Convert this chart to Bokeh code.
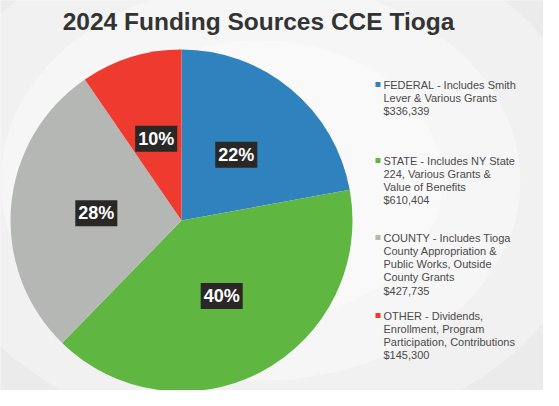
import numpy as np
from bokeh.plotting import figure
from bokeh.models import ColumnDataSource, Range1d, Label
from bokeh.core.properties import value
from bokeh.embed import file_html
from bokeh.resources import INLINE

# ---- data ----
categories = ["FEDERAL", "STATE", "COUNTY", "OTHER"]
amounts = [336339, 610404, 427735, 145300]
pct_labels = ["22%", "40%", "28%", "10%"]
colors = ["#2f82bd", "#5fb742", "#b4b7b3", "#ef3a2f"]
legend_lines = [
    ["FEDERAL - Includes Smith", "Lever & Various Grants", "$336,339"],
    ["STATE - Includes NY State", "224, Various Grants &", "Value of Benefits", "$610,404"],
    ["COUNTY - Includes Tioga", "County Appropriation &", "Public Works, Outside", "County Grants", "$427,735"],
    ["OTHER - Dividends,", "Enrollment, Program", "Participation, Contributions", "$145,300"],
]
title_text = "2024 Funding Sources CCE Tioga"

W, H = 543, 390
p = figure(width=W, height=H, output_backend="svg", toolbar_location=None,
           x_range=Range1d(0, W), y_range=Range1d(0, H), min_border=0)
p.axis.visible = False
p.grid.visible = False
p.outline_line_color = None
p.background_fill_color = "#e4e4e4"
p.border_fill_color = "#e4e4e4"

# soft lighter centre (vignette)
for r, a in [(320, 0.25), (260, 0.3), (200, 0.35), (140, 0.4)]:
    p.ellipse(x=260, y=210, width=2 * r * 1.3, height=2 * r, fill_color="white",
              fill_alpha=a, line_color=None)

# ---- pie ----
cx, cy, R = 181, 170, 171
vals = np.array(amounts, dtype=float)
frac = vals / vals.sum()
cum = np.concatenate([[0], np.cumsum(frac)])
start = np.pi / 2 - cum[:-1] * 2 * np.pi
end = np.pi / 2 - cum[1:] * 2 * np.pi
mid = (start + end) / 2
src = ColumnDataSource(dict(start=start, end=end, color=colors,
                            lx=cx + 0.5 * R * np.cos(mid), ly=cy + 0.5 * R * np.sin(mid),
                            lab=pct_labels))
p.wedge(x=cx, y=cy, radius=R, start_angle="start", end_angle="end", direction="clock",
        fill_color="color", line_color=None, source=src)
p.text(x="lx", y="ly", text="lab", source=src, text_color="white",
       text_font=value("Liberation Sans"), text_font_style="bold", text_font_size="18px",
       text_align="center", text_baseline="middle",
       background_fill_color="#2a2727", padding=3)

# ---- legend ----
first_y = [306, 230, 153, 75]
spacing = 13.3
tx, ty, tt = [], [], []
for i, lines in enumerate(legend_lines):
    for j, ln in enumerate(lines):
        tx.append(383)
        ty.append(first_y[i] - j * spacing)
        tt.append(ln)
p.text(x=tx, y=ty, text=tt, text_color="#4a4a4a", text_font=value("Liberation Sans"),
       text_font_size="11px", text_baseline="middle", text_align="left")
p.scatter(x=[377.5] * 4, y=first_y, marker="square", size=5, fill_color=colors, line_color=None)

# ---- title ----
p.add_layout(Label(x=258, y=369, text=title_text, text_font="Liberation Sans",
                   text_font_style="bold", text_font_size="24.5px", text_color="#333333",
                   text_align="center", text_baseline="middle"))

open("out.html", "w").write(file_html(p, INLINE))
